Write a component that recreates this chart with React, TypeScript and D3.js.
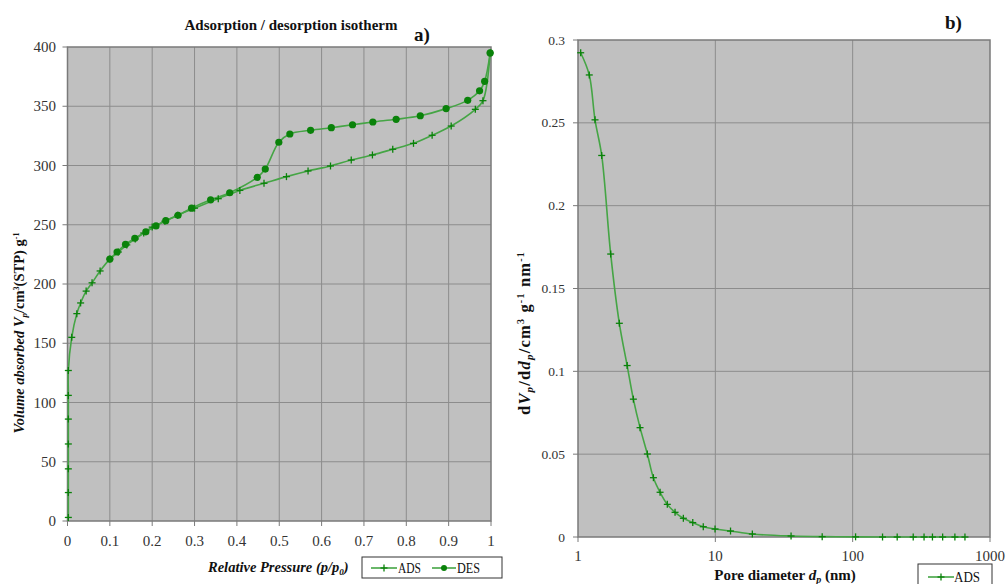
import React from "react";
import * as d3 from "d3";

// a) isotherm, adsorption branch
const adsP = [0.002, 0.002, 0.002, 0.002, 0.002, 0.002, 0.002, 0.01, 0.022, 0.031, 0.044, 0.058, 0.077, 0.1, 0.12, 0.14, 0.16, 0.18, 0.2, 0.23, 0.26, 0.3, 0.356, 0.407, 0.464, 0.517, 0.568, 0.621, 0.67, 0.72, 0.768, 0.817, 0.861, 0.906, 0.963, 0.981, 0.998];
const adsV = [3, 24, 44, 65, 86, 106, 127, 155, 175, 184, 194, 201, 211, 221, 227, 233, 238, 243, 248, 253, 258, 264, 272, 279, 285, 290.6, 295.4, 299.6, 304.6, 308.9, 313.7, 318.7, 325.5, 333.3, 347.4, 354.7, 395];
// desorption branch
const desP = [0.998, 0.985, 0.973, 0.945, 0.894, 0.833, 0.776, 0.721, 0.673, 0.623, 0.574, 0.525, 0.499, 0.467, 0.448, 0.383, 0.338, 0.293, 0.261, 0.232, 0.209, 0.185, 0.159, 0.137, 0.117, 0.1];
const desV = [395, 371, 363, 355, 348, 342, 339, 336.7, 334.4, 331.9, 329.7, 326.6, 319.6, 297, 290, 277, 271, 264, 258, 253.4, 249, 244, 238.6, 233.5, 227, 221];

// b) pore size distribution
const poreD = [1.046, 1.208, 1.33, 1.488, 1.73, 2.0, 2.28, 2.53, 2.83, 3.2, 3.54, 3.96, 4.47, 5.09, 5.85, 6.85, 8.17, 9.95, 12.9, 18.6, 35.6, 60, 105, 165, 211, 276, 331, 381, 452, 555, 657];
const poreV = [0.2923, 0.2789, 0.2518, 0.2303, 0.1708, 0.129, 0.1035, 0.0832, 0.066, 0.0501, 0.0358, 0.027, 0.0197, 0.0149, 0.0113, 0.0087, 0.0062, 0.0048, 0.0036, 0.0018, 0.0006, 0.0002, 0.0001, 0, 0, 0, 0, 0, 0, 0, 0];

const xTicksA = [0, 0.1, 0.2, 0.3, 0.4, 0.5, 0.6, 0.7, 0.8, 0.9, 1];
const yTicksA = [0, 50, 100, 150, 200, 250, 300, 350, 400];
const xTicksB = [1, 10, 100, 1000];
const yTicksB = [0, 0.05, 0.1, 0.15, 0.2, 0.25, 0.3];

const BG = "#c0c0c0";
const GRID = "#8c8c8c";
const LINE = "#45a545";
const MARK = "#0a820a";
const TXT = "#333";
const FONT = '"Liberation Serif", "Times New Roman", "DejaVu Serif", serif';

const Plus = ({ x, y }: { x: number; y: number }) => (
  <g stroke={MARK} strokeWidth={1.3}>
    <line x1={x - 3.5} x2={x + 3.5} y1={y} y2={y} />
    <line x1={x} x2={x} y1={y - 3.5} y2={y + 3.5} />
  </g>
);

export default function App() {
  // scales for a)
  const xa = d3.scaleLinear().domain([0, 1]).range([67.5, 491]);
  const ya = d3.scaleLinear().domain([0, 400]).range([521, 47]);
  // scales for b)
  const xb = d3.scaleLog().domain([1, 1000]).range([578, 990]);
  const yb = d3.scaleLinear().domain([0, 0.3]).range([537, 40]);

  const lineA = d3
    .line<[number, number]>()
    .x((d) => xa(d[0]))
    .y((d) => ya(d[1]))
    .curve(d3.curveCatmullRom.alpha(0.5));
  const lineB = d3
    .line<[number, number]>()
    .x((d) => xb(d[0]))
    .y((d) => yb(d[1]))
    .curve(d3.curveCatmullRom.alpha(0.5));

  const ads = adsP.map((p, i) => [p, adsV[i]] as [number, number]);
  const des = desP.map((p, i) => [p, desV[i]] as [number, number]);
  const pore = poreD.map((d, i) => [d, poreV[i]] as [number, number]);

  return (
    <div style={{ position: "fixed", left: 0, top: 0 }}>
      <svg width={1007} height={584} style={{ display: "block", background: "#fff", fontFamily: FONT }}>
        {/* ---------- a) ---------- */}
        <rect x={xa(0)} y={ya(400)} width={xa(1) - xa(0)} height={ya(0) - ya(400)} fill={BG} />
        {xTicksA.slice(1, -1).map((t) => (
          <line key={"ga" + t} x1={xa(t)} x2={xa(t)} y1={ya(0)} y2={ya(400)} stroke={GRID} />
        ))}
        {yTicksA.slice(1, -1).map((t) => (
          <line key={"gya" + t} x1={xa(0)} x2={xa(1)} y1={ya(t)} y2={ya(t)} stroke={GRID} />
        ))}
        <rect x={xa(0)} y={ya(400)} width={xa(1) - xa(0)} height={ya(0) - ya(400)} fill="none" stroke="#7a7a7a" strokeWidth={1.5} />
        {yTicksA.map((t) => (
          <g key={"ya" + t}>
            <line x1={xa(0) - 5} x2={xa(0)} y1={ya(t)} y2={ya(t)} stroke="#7a7a7a" />
            <text x={56} y={ya(t) + 5} textAnchor="end" fontSize={15} fill={TXT}>{t}</text>
          </g>
        ))}
        {xTicksA.map((t) => (
          <g key={"xa" + t}>
            <line x1={xa(t)} x2={xa(t)} y1={ya(0)} y2={ya(0) + 5} stroke="#7a7a7a" />
            <text x={xa(t)} y={546} textAnchor="middle" fontSize={15} fill={TXT}>{t}</text>
          </g>
        ))}
        <path d={lineA(ads) || ""} fill="none" stroke={LINE} strokeWidth={1.6} />
        <path d={lineA(des) || ""} fill="none" stroke={LINE} strokeWidth={1.6} />
        {ads.map((d, i) => (
          <Plus key={"pa" + i} x={xa(d[0])} y={ya(d[1])} />
        ))}
        {des.map((d, i) => (
          <circle key={"pd" + i} cx={xa(d[0])} cy={ya(d[1])} r={3.6} fill={MARK} />
        ))}

        <text x={291} y={30} textAnchor="middle" fontSize={15} fontWeight="bold" fill="#111">
          Adsorption / desorption isotherm
        </text>
        <text x={414} y={41} fontSize={19} fontWeight="bold" fill="#111">a)</text>

        <text transform="translate(24,333) rotate(-90)" textAnchor="middle" fontSize={14.5} fontWeight="bold" fill="#111">
          <tspan fontStyle="italic">Volume absorbed V</tspan>
          <tspan fontStyle="italic" fontSize={9} dy={3}>p</tspan>
          <tspan dy={-3}>/cm</tspan>
          <tspan fontSize={8} dy={-5}>3</tspan>
          <tspan dy={5}>(STP) g</tspan>
          <tspan fontSize={8} dy={-5}>-1</tspan>
        </text>

        <text x={208} y={572} fontSize={14.5} fontWeight="bold" fontStyle="italic" fill="#111">
          Relative Pressure (p/p
          <tspan fontSize={9} dy={3}>0</tspan>
          <tspan dy={-3}>)</tspan>
        </text>
        <rect x={362} y={557} width={140} height={21} fill="#fff" stroke="#333" />
        <line x1={371} x2={397} y1={568} y2={568} stroke={LINE} strokeWidth={1.6} />
        <Plus x={384} y={568} />
        <text x={398} y={573} fontSize={15} fill="#111" textLength={23} lengthAdjust="spacingAndGlyphs">ADS</text>
        <line x1={432} x2={456} y1={568} y2={568} stroke={LINE} strokeWidth={1.6} />
        <circle cx={444} cy={568} r={3} fill={MARK} />
        <text x={457} y={573} fontSize={15} fill="#111" textLength={23} lengthAdjust="spacingAndGlyphs">DES</text>

        {/* ---------- b) ---------- */}
        <rect x={xb(1)} y={yb(0.3)} width={xb(1000) - xb(1)} height={yb(0) - yb(0.3)} fill={BG} />
        {xTicksB.slice(1, -1).map((t) => (
          <line key={"gb" + t} x1={xb(t)} x2={xb(t)} y1={yb(0)} y2={yb(0.3)} stroke={GRID} />
        ))}
        {yTicksB.slice(1, -1).map((t) => (
          <line key={"gyb" + t} x1={xb(1)} x2={xb(1000)} y1={yb(t)} y2={yb(t)} stroke={GRID} />
        ))}
        <rect x={xb(1)} y={yb(0.3)} width={xb(1000) - xb(1)} height={yb(0) - yb(0.3)} fill="none" stroke="#7a7a7a" strokeWidth={1.5} />
        {yTicksB.map((t) => (
          <g key={"yb" + t}>
            <line x1={xb(1) - 5} x2={xb(1)} y1={yb(t)} y2={yb(t)} stroke="#7a7a7a" />
            <text x={565} y={yb(t) + 4.5} textAnchor="end" fontSize={13.5} fill={TXT}>{t}</text>
          </g>
        ))}
        {xTicksB.map((t) => (
          <g key={"xb" + t}>
            <line x1={xb(t)} x2={xb(t)} y1={yb(0)} y2={yb(0) + 5} stroke="#7a7a7a" />
            <text x={xb(t)} y={561} textAnchor="middle" fontSize={15} fill={TXT}>{t}</text>
          </g>
        ))}
        <path d={lineB(pore) || ""} fill="none" stroke={LINE} strokeWidth={1.6} />
        {pore.map((d, i) => (
          <Plus key={"pb" + i} x={xb(d[0])} y={yb(d[1])} />
        ))}

        <text x={945} y={29} fontSize={19} fontWeight="bold" fill="#111">b)</text>

        <text transform="translate(530,333) rotate(-90)" textAnchor="middle" fontSize={16.5} fontWeight="bold" fill="#111" letterSpacing={1.2}>
          d<tspan fontStyle="italic">V</tspan>
          <tspan fontStyle="italic" fontSize={11} dy={3}>p</tspan>
          <tspan dy={-3}>/d</tspan>
          <tspan fontStyle="italic">d</tspan>
          <tspan fontStyle="italic" fontSize={11} dy={3}>p</tspan>
          <tspan dy={-3}>/cm</tspan>
          <tspan fontSize={10} dy={-6}>3</tspan>
          <tspan dy={6}> g</tspan>
          <tspan fontSize={10} dy={-6}>-1</tspan>
          <tspan dy={6}> nm</tspan>
          <tspan fontSize={10} dy={-6}>-1</tspan>
        </text>

        <text x={785} y={580} textAnchor="middle" fontSize={15} fontWeight="bold" fill="#111">
          Pore diameter <tspan fontStyle="italic">d</tspan>
          <tspan fontStyle="italic" fontSize={10} dy={3}>p</tspan>
          <tspan dy={-3}> (nm)</tspan>
        </text>
        <rect x={918} y={564} width={74} height={26} fill="#fff" stroke="#333" />
        <line x1={928} x2={954} y1={577} y2={577} stroke={LINE} strokeWidth={1.6} />
        <Plus x={941} y={577} />
        <text x={954} y={582} fontSize={15} fill="#111" textLength={26} lengthAdjust="spacingAndGlyphs">ADS</text>
      </svg>
    </div>
  );
}
